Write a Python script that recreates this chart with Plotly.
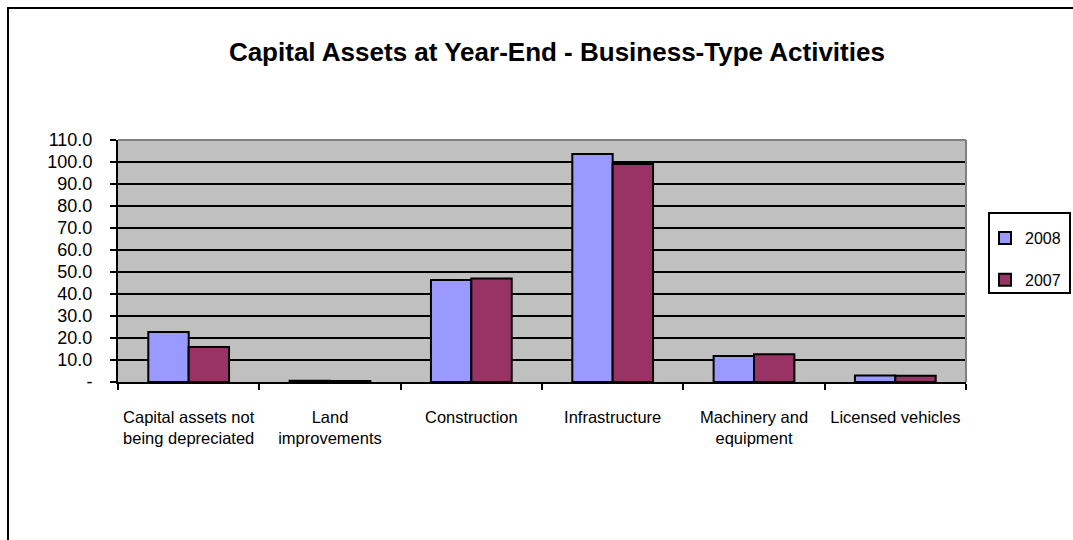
import plotly.graph_objects as go

# Capital assets by category, in millions
categories = [
    "Capital assets not<br>being depreciated",
    "Land<br>improvements",
    "Construction",
    "Infrastructure",
    "Machinery and<br>equipment",
    "Licensed vehicles",
]
values_2008 = [22.7, 0.6, 46.4, 103.6, 11.8, 2.9]
values_2007 = [15.9, 0.5, 47.1, 99.1, 12.6, 2.8]

y_tickvals = [0, 10, 20, 30, 40, 50, 60, 70, 80, 90, 100, 110]
y_ticktext = ["-", "10.0", "20.0", "30.0", "40.0", "50.0", "60.0",
              "70.0", "80.0", "90.0", "100.0", "110.0"]

FONT = "Liberation Sans, Arial, sans-serif"

fig = go.Figure()
fig.add_trace(go.Bar(
    x=categories, y=values_2008, name="2008",
    marker=dict(color="#9999FF", line=dict(color="black", width=2)),
    legendgroup="a",
))
fig.add_trace(go.Bar(
    x=categories, y=values_2007, name="2007",
    marker=dict(color="#993366", line=dict(color="black", width=2)),
    legendgroup="b",
))

# plot area geometry in pixels (used to place the frame and legend box)
L, R, T, B = 118, 966, 140, 382
W, H = R - L, B - T

def px_x(p):
    return (p - L) / W

def px_y(p):
    return (B - p) / H

shapes = [
    # outer chart frame (runs off the right and bottom of the page)
    dict(type="rect", xref="paper", yref="paper",
         x0=px_x(8), x1=px_x(1090), y0=px_y(560), y1=px_y(8),
         line=dict(color="black", width=2), fillcolor="rgba(0,0,0,0)"),
    # grey top and right edges of the plot area
    dict(type="line", xref="paper", yref="paper", x0=0, x1=1, y0=1, y1=1,
         line=dict(color="#808080", width=2)),
    dict(type="line", xref="paper", yref="paper", x0=1, x1=1, y0=0, y1=1,
         line=dict(color="#808080", width=2)),
    # legend box
    dict(type="rect", xref="paper", yref="paper",
         x0=px_x(989), x1=px_x(1070), y0=px_y(293), y1=px_y(213),
         line=dict(color="black", width=2), fillcolor="rgba(0,0,0,0)"),
]

fig.update_layout(
    width=1073, height=540,
    margin=dict(l=L, r=1073 - R, t=T, b=540 - B, autoexpand=False),
    paper_bgcolor="white",
    plot_bgcolor="#C0C0C0",
    barmode="group",
    bargap=0.4286,
    bargroupgap=0,
    title=dict(
        text="<b>Capital Assets at Year-End - Business-Type Activities</b>",
        x=0.519, xref="container", xanchor="center",
        y=1 - 52 / 540, yref="container", yanchor="middle",
        font=dict(family=FONT, size=26, color="black"),
    ),
    font=dict(family=FONT, size=17, color="black"),
    showlegend=True,
    legend=dict(
        x=px_x(985), y=px_y(221), xanchor="left", yanchor="top",
        borderwidth=0, bgcolor="rgba(0,0,0,0)",
        font=dict(family=FONT, size=16, color="black"),
        traceorder="grouped", tracegroupgap=18,
        itemwidth=30,
    ),
    shapes=shapes,
)

fig.update_xaxes(
    type="category",
    tickson="boundaries",
    tickangle=0,
    ticks="outside", ticklen=6, tickwidth=2, tickcolor="black",
    showline=True, linecolor="black", linewidth=2,
    showgrid=False,
    ticklabelstandoff=19,
    tickfont=dict(family=FONT, size=16.5, color="black"),
)
fig.update_yaxes(
    range=[0, 110],
    tickvals=y_tickvals, ticktext=y_ticktext,
    ticks="outside", ticklen=6, tickwidth=2, tickcolor="black",
    showline=True, linecolor="black", linewidth=2,
    showgrid=True, gridcolor="black", gridwidth=2,
    zeroline=False,
    ticklabelstandoff=14,
    tickfont=dict(family=FONT, size=18, color="black"),
)

fig.write_html("out.html")
